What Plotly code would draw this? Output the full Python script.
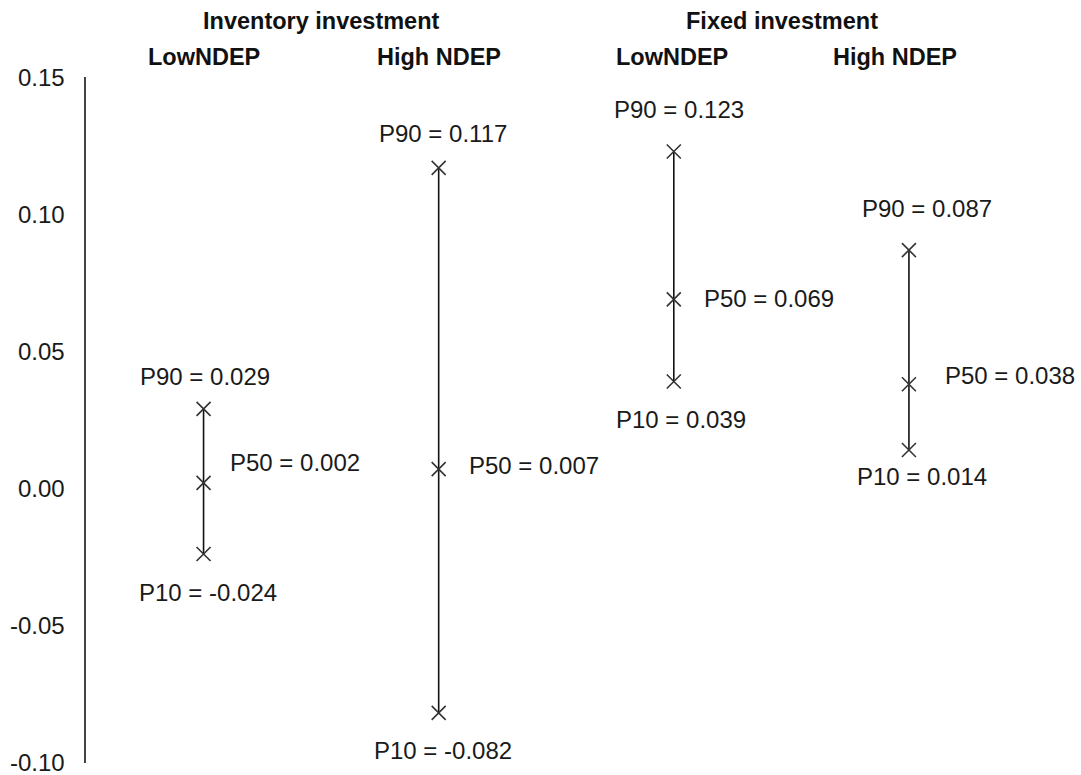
import plotly.graph_objects as go

# ---- data ----
groups = ["Inventory investment", "Fixed investment"]
categories = ["LowNDEP", "High NDEP", "LowNDEP", "High NDEP"]
group_of = [0, 0, 1, 1]
p10 = [-0.024, -0.082, 0.039, 0.014]
p50 = [0.002, 0.007, 0.069, 0.038]
p90 = [0.029, 0.117, 0.123, 0.087]
y_ticks = [-0.10, -0.05, 0.00, 0.05, 0.10, 0.15]
y_tick_labels = ["-0.10", "-0.05", "0.00", "0.05", "0.10", "0.15"]

# ---- styling (label offsets in px) ----
FONT = "Liberation Sans, Arial, sans-serif"
p90_off = [(1, -32), (4, -34), (5, -42), (18, -42)]
p50_off = [(24, -20), (28, -4), (28, -1), (34, -9)]
p10_off = [(4, 38), (4, 38), (7, 38), (13, 27)]
cat_head_shift = [0, 0, -2, -14]
group_head_shift = [0, -9]

fig = go.Figure()
for i in range(len(categories)):
    fig.add_trace(go.Scatter(
        x=[i, i, i], y=[p10[i], p50[i], p90[i]],
        mode="lines+markers",
        line=dict(color="#111111", width=1.6),
        marker=dict(symbol="x-thin", size=14,
                    line=dict(color="#333333", width=1.6), color="#333333"),
        showlegend=False, hoverinfo="skip", cliponaxis=False,
    ))

ann = []
lab_font = dict(family=FONT, size=24, color="#1a1a1a")
head_font = dict(family=FONT, size=23.5, color="#111111")
for i in range(len(categories)):
    ann.append(dict(x=i, y=p90[i], xref="x", yref="y", text=f"P90 = {p90[i]:.3f}",
                    showarrow=False, xanchor="center", yanchor="middle",
                    xshift=p90_off[i][0], yshift=-p90_off[i][1], font=lab_font))
    ann.append(dict(x=i, y=p50[i], xref="x", yref="y", text=f"P50 = {p50[i]:.3f}",
                    showarrow=False, xanchor="left", yanchor="middle",
                    xshift=p50_off[i][0], yshift=-p50_off[i][1], font=lab_font))
    ann.append(dict(x=i, y=p10[i], xref="x", yref="y", text=f"P10 = {p10[i]:.3f}",
                    showarrow=False, xanchor="center", yanchor="middle",
                    xshift=p10_off[i][0], yshift=-p10_off[i][1], font=lab_font))
    ann.append(dict(x=i, y=1, xref="x", yref="paper", text=f"<b>{categories[i]}</b>",
                    showarrow=False, xanchor="center", yanchor="middle",
                    xshift=cat_head_shift[i], yshift=20, font=head_font))

for g in range(len(groups)):
    idx = [i for i in range(len(categories)) if group_of[i] == g]
    xc = sum(idx) / len(idx)
    ann.append(dict(x=xc, y=1, xref="x", yref="paper", text=f"<b>{groups[g]}</b>",
                    showarrow=False, xanchor="center", yanchor="middle",
                    xshift=group_head_shift[g], yshift=56, font=head_font))

fig.update_layout(
    width=1081, height=775,
    margin=dict(l=86, r=31, t=77, b=12, autoexpand=False),
    paper_bgcolor="white", plot_bgcolor="white",
    annotations=ann,
    xaxis=dict(range=[-0.5, 3.6], visible=False, fixedrange=True),
    yaxis=dict(range=[-0.1003, 0.1502], tickvals=y_ticks, ticktext=y_tick_labels,
               showgrid=False, zeroline=False, showline=True,
               linecolor="#444444", linewidth=1.6, ticks="",
               ticklabelstandoff=15, ticklabeloverflow="allow",
               automargin=False, fixedrange=True,
               tickfont=dict(family=FONT, size=24, color="#1a1a1a")),
)

fig.write_html(
    "out.html",
    config={"displayModeBar": False, "staticPlot": True},
    post_script="document.body.style.margin='0';document.body.style.overflow='hidden';",
)
